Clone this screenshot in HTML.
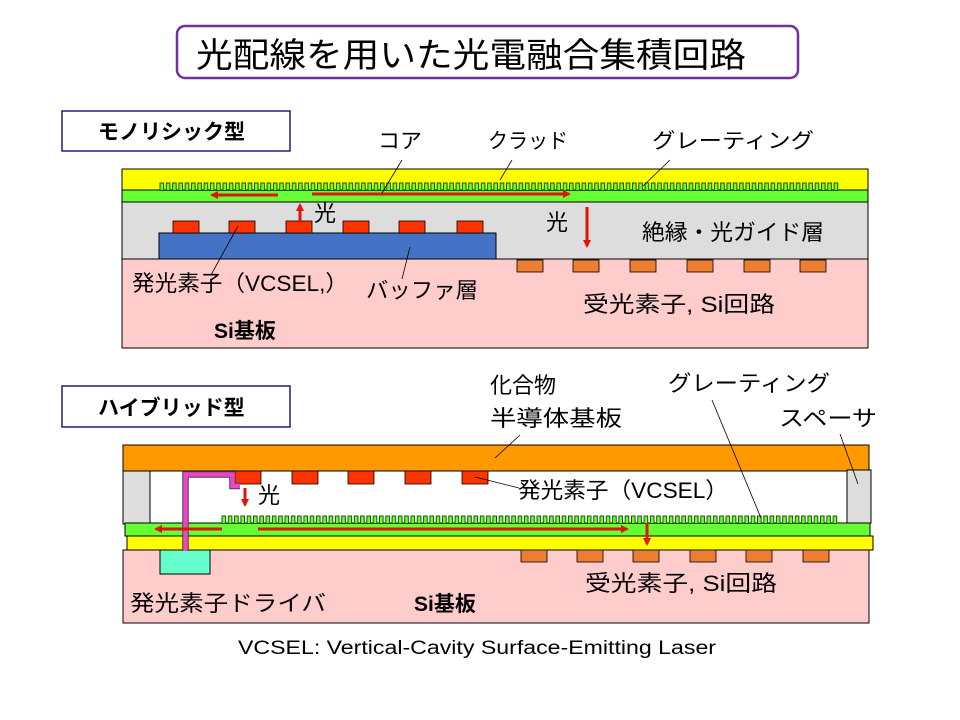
<!DOCTYPE html>
<html><head><meta charset="utf-8">
<style>
html,body{margin:0;padding:0;background:#fff;}
svg{display:block;}
text{font-family:"Liberation Sans","Noto Sans CJK JP",sans-serif;fill:#000;}
</style></head>
<body>
<svg width="960" height="720" viewBox="0 0 960 720" xmlns="http://www.w3.org/2000/svg">
<defs>
<marker id="ah" markerWidth="8" markerHeight="8" refX="6" refY="4" orient="auto" markerUnits="userSpaceOnUse">
<path d="M0,0 L8,4 L0,8 z" fill="#e0140a"/>
</marker>
</defs>

<!-- title -->
<rect x="177" y="26" width="621" height="52" rx="8" fill="#fff" stroke="#7030a0" stroke-width="2.5"/>
<text x="196" y="67" font-size="34" textLength="550" lengthAdjust="spacingAndGlyphs">光配線を用いた光電融合集積回路</text>

<!-- section labels -->
<rect x="62" y="111" width="228" height="40" fill="#fff" stroke="#1f1f7a" stroke-width="1.5"/>
<text x="98" y="139" font-size="21" font-weight="bold">モノリシック型</text>
<rect x="62" y="386" width="228" height="41" fill="#fff" stroke="#1f1f7a" stroke-width="1.5"/>
<text x="98" y="415" font-size="21" font-weight="bold">ハイブリッド型</text>

<!-- ===== TOP DIAGRAM ===== -->
<rect x="122" y="259" width="746" height="89" fill="#ffcccc" stroke="#000" stroke-width="1"/>
<rect x="122" y="202" width="746" height="57" fill="#dddddd" stroke="#000" stroke-width="1"/>
<rect x="122" y="169" width="746" height="21" fill="#ffff00" stroke="#000" stroke-width="1"/>
<rect x="122" y="190" width="746" height="12" fill="#66ff33" stroke="#000" stroke-width="1"/>
<path id="gr1" fill="#66ff33" stroke="#1a5a00" stroke-width="1"/>
<rect x="159" y="233" width="337" height="26" fill="#4472c4" stroke="#000" stroke-width="1"/>
<g fill="#ff3300" stroke="#000" stroke-width="0.8">
<rect x="173" y="221" width="26" height="12"/><rect x="229" y="221" width="26" height="12"/>
<rect x="286" y="221" width="26" height="12"/><rect x="343" y="221" width="26" height="12"/>
<rect x="399" y="221" width="26" height="12"/><rect x="457" y="221" width="26" height="12"/>
</g>
<g fill="#ed7d31" stroke="#000" stroke-width="0.8">
<rect x="517" y="260" width="26" height="12"/><rect x="573" y="260" width="26" height="12"/>
<rect x="630" y="260" width="26" height="12"/><rect x="687" y="260" width="26" height="12"/>
<rect x="744" y="260" width="26" height="12"/><rect x="800" y="260" width="26" height="12"/>
</g>
<g stroke="#e0140a" stroke-width="3" fill="none">
<line x1="278" y1="195" x2="212" y2="195" marker-end="url(#ah)"/>
<line x1="312" y1="194" x2="569" y2="194" marker-end="url(#ah)"/>
<line x1="300" y1="221" x2="300" y2="205" marker-end="url(#ah)"/>
<line x1="587" y1="207" x2="587" y2="246" marker-end="url(#ah)"/>
</g>
<g stroke="#000" stroke-width="0.8">
<line x1="402" y1="160" x2="382" y2="193"/>
<line x1="512" y1="160" x2="500" y2="180"/>
<line x1="670" y1="160" x2="643" y2="186"/>
<line x1="211" y1="275" x2="238" y2="226"/>
<line x1="402" y1="279" x2="410" y2="247"/>
</g>
<text x="378" y="148" font-size="21" textLength="44" lengthAdjust="spacingAndGlyphs">コア</text>
<text x="488" y="148" font-size="21" textLength="80" lengthAdjust="spacingAndGlyphs">クラッド</text>
<text x="652" y="148" font-size="21" textLength="162" lengthAdjust="spacingAndGlyphs">グレーティング</text>
<text x="314" y="221" font-size="22">光</text>
<text x="546" y="230" font-size="22">光</text>
<text x="642" y="240" font-size="22" textLength="182" lengthAdjust="spacingAndGlyphs">絶縁・光ガイド層</text>
<text x="132" y="291" font-size="22" textLength="216" lengthAdjust="spacingAndGlyphs">発光素子（VCSEL,）</text>
<text x="366" y="298" font-size="22" textLength="112" lengthAdjust="spacingAndGlyphs">バッファ層</text>
<text x="583" y="312" font-size="22" textLength="192" lengthAdjust="spacingAndGlyphs">受光素子, Si回路</text>
<text x="214" y="338" font-size="21" font-weight="bold">Si基板</text>

<!-- ===== BOTTOM DIAGRAM ===== -->
<rect x="123" y="550" width="746" height="73" fill="#ffcccc" stroke="#000" stroke-width="1"/>
<rect x="123" y="445" width="746" height="26" fill="#ff9900" stroke="#000" stroke-width="1"/>
<rect x="123" y="471" width="27" height="53" fill="#dddddd" stroke="#000" stroke-width="1"/>
<rect x="847" y="470" width="24" height="53" fill="#dddddd" stroke="#000" stroke-width="1"/>
<g fill="#ff3300" stroke="#000" stroke-width="0.8">
<rect x="235" y="471" width="26" height="13"/><rect x="292" y="471" width="26" height="13"/>
<rect x="348" y="471" width="26" height="13"/><rect x="405" y="471" width="26" height="13"/>
<rect x="462" y="471" width="26" height="13"/>
</g>
<rect x="125" y="523" width="745" height="13" fill="#66ff33" stroke="#000" stroke-width="1"/>
<path id="gr2" fill="#66ff33" stroke="#1a5a00" stroke-width="1"/>
<rect x="127" y="536" width="746" height="14" fill="#ffff00" stroke="#000" stroke-width="1"/>
<rect x="160" y="550" width="50" height="24" fill="#66ffcc" stroke="#000" stroke-width="1"/>
<g fill="#ed7d31" stroke="#000" stroke-width="0.8">
<rect x="521" y="550" width="26" height="12"/><rect x="577" y="550" width="26" height="12"/>
<rect x="633" y="550" width="26" height="12"/><rect x="690" y="550" width="26" height="12"/>
<rect x="746" y="550" width="26" height="12"/><rect x="803" y="550" width="26" height="12"/>
</g>
<path d="M185.5,551 L185.5,474.5 L232.5,474.5 L232.5,486 L240,486" fill="none" stroke="#444" stroke-width="6.5"/>
<path d="M185.5,551 L185.5,474.5 L232.5,474.5 L232.5,486 L240,486" fill="none" stroke="#ee44cc" stroke-width="4.5"/>
<g stroke="#e0140a" stroke-width="3" fill="none">
<line x1="222" y1="529" x2="156" y2="529" marker-end="url(#ah)"/>
<line x1="258" y1="529" x2="627" y2="529" marker-end="url(#ah)"/>
<line x1="245" y1="488" x2="245" y2="505" marker-end="url(#ah)"/>
<line x1="647" y1="523" x2="647" y2="544" marker-end="url(#ah)"/>
</g>
<g stroke="#000" stroke-width="0.8">
<line x1="520" y1="435" x2="495" y2="458"/>
<line x1="712" y1="400" x2="761" y2="518"/>
<line x1="840" y1="434" x2="858" y2="484"/>
<line x1="475" y1="477" x2="519" y2="488"/>
</g>
<text x="490" y="393" font-size="22" textLength="66" lengthAdjust="spacingAndGlyphs">化合物</text>
<text x="490" y="426" font-size="22" textLength="132" lengthAdjust="spacingAndGlyphs">半導体基板</text>
<text x="668" y="391" font-size="22" textLength="162" lengthAdjust="spacingAndGlyphs">グレーティング</text>
<text x="779" y="426" font-size="22" textLength="98" lengthAdjust="spacingAndGlyphs">スペーサ</text>
<text x="258" y="503" font-size="22">光</text>
<text x="518" y="498" font-size="22" textLength="210" lengthAdjust="spacingAndGlyphs">発光素子（VCSEL）</text>
<text x="585" y="591" font-size="22" textLength="192" lengthAdjust="spacingAndGlyphs">受光素子, Si回路</text>
<text x="130" y="611" font-size="22" textLength="196" lengthAdjust="spacingAndGlyphs">発光素子ドライバ</text>
<text x="414" y="611" font-size="21" font-weight="bold">Si基板</text>

<text x="238" y="654" font-size="19" textLength="478" lengthAdjust="spacingAndGlyphs">VCSEL: Vertical-Cavity Surface-Emitting Laser</text>
</svg>
<script>
function grating(id,x0,x1,yb,yt){
  var d="M"+x0+","+yb; var p=6.3,w=3.6;
  for(var x=x0;x+w<=x1;x+=p){
    d+=" L"+x.toFixed(1)+","+yb+" L"+x.toFixed(1)+","+yt+" L"+(x+w).toFixed(1)+","+yt+" L"+(x+w).toFixed(1)+","+yb;
  }
  d+=" L"+x1+","+yb+" Z";
  document.getElementById(id).setAttribute("d",d);
}
grating("gr1",160,838,190.5,183);
grating("gr2",222,837,523.5,516);
</script>
</body></html>
